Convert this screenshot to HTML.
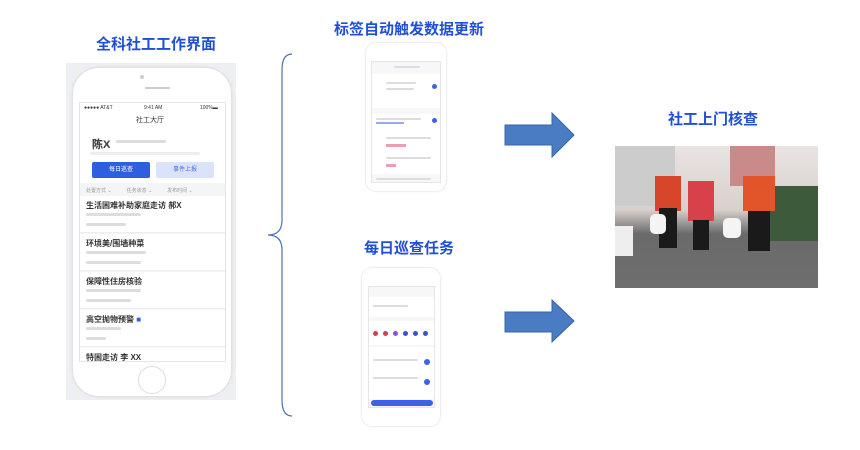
<!DOCTYPE html>
<html><head><meta charset="utf-8"><style>
*{margin:0;padding:0;box-sizing:border-box}
body{width:860px;height:450px;background:#fff;position:relative;overflow:hidden;font-family:"Liberation Sans","Noto Sans CJK SC",sans-serif}
.a{position:absolute}
.t{position:absolute;color:#1f4fd6;font-weight:bold;font-size:15px;white-space:nowrap}
.g{background:#ddd;height:3px;border-radius:2px;position:absolute}
.it{position:absolute;left:0;right:0;border-bottom:1px solid #eee;background:#fff}
.it b{position:absolute;left:6px;top:4px;font-size:8px;color:#333}
</style></head><body>
<div class="t" style="left:96px;top:33px">全科社工工作界面</div>
<div class="t" style="left:334px;top:18px">标签自动触发数据更新</div>
<div class="t" style="left:364px;top:237px">每日巡查任务</div>
<div class="t" style="left:668px;top:108px">社工上门核查</div>

<!-- left phone -->
<div class="a" style="left:66px;top:63px;width:170px;height:337px;background:#eeeff2"></div>
<div class="a" style="left:73px;top:68px;width:158px;height:328px;background:#fff;border-radius:26px;box-shadow:0 0 3px #ccc"></div>
<div class="a" style="left:140px;top:75px;width:4px;height:4px;border-radius:2px;background:#ccc"></div>
<div class="a" style="left:145px;top:87px;width:25px;height:2px;background:#ccc"></div>
<div class="a" style="left:138px;top:366px;width:28px;height:28px;border-radius:14px;border:1px solid #ddd"></div>
<div class="a" style="left:79px;top:102px;width:147px;height:260px;background:#f4f5f7;border:1px solid #e4e4e4;overflow:hidden">
 <div class="a" style="left:0;top:0;width:147px;height:44px;background:#fff"></div>
 <div class="a" style="left:4px;top:2px;font-size:5px;color:#333">●●●●● AT&amp;T</div>
 <div class="a" style="left:64px;top:2px;font-size:5px;color:#333">9:41 AM</div>
 <div class="a" style="left:120px;top:2px;font-size:5px;color:#333">100%▬</div>
 <div class="a" style="left:56px;top:12px;font-size:7px;color:#333">社工大厅</div>
 <div class="a" style="left:12px;top:33px;font-size:11px;color:#444;font-weight:bold">陈X</div>
 <div class="g" style="left:36px;top:37px;width:50px"></div>
 <div class="g" style="left:10px;top:49px;width:110px;background:#eee"></div>
 <div class="a" style="left:12px;top:59px;width:58px;height:16px;background:#2e5fe0;border-radius:2px;color:#fff;font-size:6px;text-align:center;line-height:16px">每日巡查</div>
 <div class="a" style="left:76px;top:59px;width:58px;height:16px;background:#dbe3fb;border-radius:2px;color:#4a6fe0;font-size:6px;text-align:center;line-height:16px">事件上报</div>
 <div class="a" style="left:0;top:44px;width:147px;height:36px;background:#fff"></div>
 <div class="a" style="left:12px;top:59px;width:58px;height:16px;background:#2e5fe0;border-radius:2px;color:#fff;font-size:6px;text-align:center;line-height:16px">每日巡查</div>
 <div class="a" style="left:76px;top:59px;width:58px;height:16px;background:#dbe3fb;border-radius:2px;color:#4a6fe0;font-size:6px;text-align:center;line-height:16px">事件上报</div>
 <div class="a" style="left:12px;top:33px;font-size:11px;color:#444;font-weight:bold">陈X</div>
 <div class="g" style="left:36px;top:37px;width:50px"></div>
 <div class="g" style="left:10px;top:49px;width:110px;background:#eee"></div>
 <div class="a" style="left:6px;top:84px;font-size:5px;color:#999">处置方式 ⌄　　　任务状态 ⌄　　　发布时间 ⌄</div>
 <div class="it" style="top:93px;height:37px"><b>生活困难补助家庭走访 郝X</b><div class="g" style="left:6px;top:17px;width:55px"></div><div class="g" style="left:6px;top:27px;width:40px"></div></div>
 <div class="it" style="top:131px;height:37px"><b>环境美/围墙种菜</b><div class="g" style="left:6px;top:17px;width:60px"></div><div class="g" style="left:6px;top:27px;width:55px"></div></div>
 <div class="it" style="top:169px;height:37px"><b>保障性住房核验</b><div class="g" style="left:6px;top:17px;width:55px"></div><div class="g" style="left:6px;top:27px;width:45px"></div></div>
 <div class="it" style="top:207px;height:37px"><b>高空抛物预警 <span style="color:#2e5fe0">■</span></b><div class="g" style="left:6px;top:17px;width:35px"></div><div class="g" style="left:6px;top:27px;width:20px"></div></div>
 <div class="it" style="top:245px;height:20px"><b>特困走访 李 XX</b></div>
</div>

<!-- brace -->
<svg class="a" style="left:262px;top:50px" width="35" height="370"><path d="M30 4 Q20 4 20 20 L20 170 Q20 185 6 185 Q20 185 20 200 L20 350 Q20 366 30 366" fill="none" stroke="#4a72b8" stroke-width="1.2"/></svg>

<!-- top middle phone -->
<div class="a" style="left:366px;top:43px;width:80px;height:148px;background:#fff;border-radius:10px;box-shadow:0 0 2px #ccc"></div>
<div class="a" style="left:371px;top:61px;width:70px;height:122px;background:#f7f7f9;border:1px solid #e6e6e6">
 <div class="g" style="left:22px;top:4px;width:26px;height:2px"></div>
 <div class="a" style="left:0;top:12px;width:68px;height:34px;background:#fff"></div>
 <div class="g" style="left:14px;top:20px;width:30px;height:2px"></div>
 <div class="g" style="left:14px;top:26px;width:28px;height:2px"></div>
 <div class="a" style="left:60px;top:22px;width:5px;height:5px;border-radius:3px;background:#3b63e6"></div>
 <div class="a" style="left:0;top:52px;width:68px;height:60px;background:#fff"></div>
 <div class="g" style="left:4px;top:56px;width:45px;height:2px"></div>
 <div class="a" style="left:4px;top:60px;width:28px;height:2px;background:#9aa8f0"></div>
 <div class="a" style="left:60px;top:56px;width:5px;height:5px;border-radius:3px;background:#3b63e6"></div>
 <div class="g" style="left:14px;top:75px;width:45px;height:2px"></div>
 <div class="a" style="left:14px;top:82px;width:20px;height:3px;background:#e8a0b0"></div>
 <div class="g" style="left:14px;top:95px;width:45px;height:2px"></div>
 <div class="a" style="left:14px;top:102px;width:10px;height:3px;background:#e8a0b0"></div>
 <div class="g" style="left:4px;top:116px;width:55px;height:2px"></div>
</div>

<!-- bottom middle phone -->
<div class="a" style="left:362px;top:268px;width:78px;height:158px;background:#fff;border-radius:10px;box-shadow:0 0 2px #ccc"></div>
<div class="a" style="left:368px;top:286px;width:67px;height:122px;background:#f7f7f9;border:1px solid #e6e6e6">
 <div class="a" style="left:0;top:10px;width:65px;height:20px;background:#fff"></div>
 <div class="g" style="left:4px;top:18px;width:35px;height:2px"></div>
 <div class="a" style="left:0;top:34px;width:65px;height:24px;background:#fff"></div>
 <div class="a" style="left:4px;top:44px;width:5px;height:5px;border-radius:3px;background:#d04050"></div>
 <div class="a" style="left:14px;top:44px;width:5px;height:5px;border-radius:3px;background:#d04050"></div>
 <div class="a" style="left:24px;top:44px;width:5px;height:5px;border-radius:3px;background:#9050d0"></div>
 <div class="a" style="left:34px;top:44px;width:5px;height:5px;border-radius:3px;background:#3b50d0"></div>
 <div class="a" style="left:44px;top:44px;width:5px;height:5px;border-radius:3px;background:#3b50d0"></div>
 <div class="a" style="left:54px;top:44px;width:5px;height:5px;border-radius:3px;background:#3b50d0"></div>
 <div class="a" style="left:0;top:60px;width:65px;height:52px;background:#fff"></div>
 <div class="g" style="left:4px;top:72px;width:45px;height:2px"></div>
 <div class="a" style="left:55px;top:72px;width:6px;height:6px;border-radius:3px;background:#3b63e6"></div>
 <div class="g" style="left:4px;top:90px;width:45px;height:2px"></div>
 <div class="a" style="left:55px;top:92px;width:6px;height:6px;border-radius:3px;background:#3b63e6"></div>
 <div class="a" style="left:2px;top:113px;width:62px;height:6px;border-radius:3px;background:#3b63e6"></div>
</div>

<!-- arrows -->
<svg class="a" style="left:504px;top:112px" width="72" height="46"><path d="M1 13 H48 V1 L70 23 L48 45 V33 H1 Z" fill="#4a7cc4" stroke="#3a64a4"/></svg>
<svg class="a" style="left:504px;top:299px" width="72" height="46"><path d="M1 13 H48 V1 L70 22 L48 43 V33 H1 Z" fill="#4a7cc4" stroke="#3a64a4"/></svg>

<!-- photo -->
<div class="a" style="left:615px;top:146px;width:203px;height:142px;background:linear-gradient(#e8e4e2 0,#d8d0cc 45%,#6a6a6a 62%,#6e6e6e 100%);overflow:hidden">
 <div class="a" style="left:0;top:0;width:60px;height:60px;background:#ccc"></div>
 <div class="a" style="left:115px;top:0;width:45px;height:40px;background:#c98a8a"></div>
 <div class="a" style="left:155px;top:40px;width:48px;height:55px;background:#3d5a3a"></div>
 <div class="a" style="left:0;top:80px;width:18px;height:30px;background:#eee"></div>
 <div class="a" style="left:40px;top:30px;width:26px;height:35px;background:#d7452a"></div>
 <div class="a" style="left:44px;top:62px;width:18px;height:40px;background:#1a1a1a"></div>
 <div class="a" style="left:73px;top:35px;width:26px;height:40px;background:#d8404a"></div>
 <div class="a" style="left:78px;top:74px;width:16px;height:30px;background:#1a1a1a"></div>
 <div class="a" style="left:128px;top:30px;width:32px;height:35px;background:#e2542a"></div>
 <div class="a" style="left:133px;top:65px;width:22px;height:40px;background:#1a1a1a"></div>
 <div class="a" style="left:108px;top:72px;width:18px;height:20px;background:#f4f4f4;border-radius:5px"></div>
 <div class="a" style="left:35px;top:68px;width:16px;height:20px;background:#f4f4f4;border-radius:5px"></div>
</div>
</body></html>
